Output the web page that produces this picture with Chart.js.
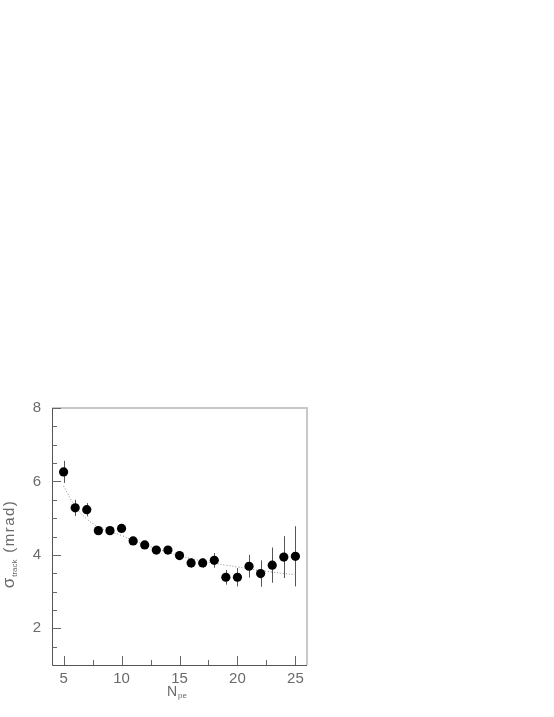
<!DOCTYPE html>
<html>
<head>
<meta charset="utf-8">
<script src="https://cdn.jsdelivr.net/npm/chart.js@4/dist/chart.umd.min.js"></script>
<style>
html,body{margin:0;padding:0;background:#fff;}
#wrap{position:relative;width:554px;height:717px;}
</style>
</head>
<body>
<div id="wrap"><canvas id="c" width="554" height="717"></canvas></div>
<script>
// Data
const nPe = [5,6,7,8,9,10,11,12,13,14,15,16,17,18,19,20,21,22,23,24,25];
const sigmaTrack = [6.26,5.28,5.23,4.66,4.66,4.72,4.38,4.27,4.13,4.13,3.98,3.78,3.78,3.85,3.39,3.39,3.69,3.49,3.72,3.94,3.96];
const sigmaErr = [0.30,0.22,0.18,0.10,0.10,0.10,0.10,0.10,0.10,0.10,0.10,0.13,0.13,0.20,0.20,0.25,0.31,0.36,0.48,0.57,0.82];
const fitX = [5,6,7,8,9,10,11,12,13,14,15,16,17,18,19,20,21,22,23,24,25];
const fitY = [5.88,5.32,4.98,4.76,4.63,4.53,4.39,4.28,4.17,4.07,3.98,3.90,3.83,3.77,3.72,3.67,3.62,3.57,3.53,3.49,3.46];
const xTicks = [5,10,15,20,25];
const yTicks = [2,4,6,8];
const xMinorTicks = [7.5,12.5,17.5,22.5];
const yMinorTicks = [1.5,2.5,3,3.5,4.5,5,5.5,6.5,7,7.5];

const FONT = '"Liberation Sans", Arial, sans-serif';
const TXT = '#6a6a6a';

const framePlugin = {
  id: 'framePlugin',
  beforeDatasetsDraw(chart) {
    const {ctx, scales: {x, y}} = chart;
    ctx.save();
    ctx.strokeStyle = '#555';
    ctx.lineWidth = 1;
    nPe.forEach((n, i) => {
      const px = Math.round(x.getPixelForValue(n)) + 0.5;
      ctx.beginPath();
      ctx.moveTo(px, y.getPixelForValue(sigmaTrack[i] + sigmaErr[i]));
      ctx.lineTo(px, y.getPixelForValue(sigmaTrack[i] - sigmaErr[i]));
      ctx.stroke();
    });
    ctx.restore();
  },
  afterDraw(chart) {
    const {ctx, chartArea: a, scales: {x, y}} = chart;
    ctx.save();
    ctx.lineWidth = 2;
    ctx.strokeStyle = '#c8c8c8';
    ctx.beginPath();
    ctx.moveTo(a.left, a.top); ctx.lineTo(a.right, a.top); ctx.lineTo(a.right, a.bottom);
    ctx.stroke();
    ctx.lineWidth = 1;
    ctx.strokeStyle = '#555';
    ctx.beginPath();
    ctx.moveTo(a.left + 0.5, a.top); ctx.lineTo(a.left + 0.5, a.bottom + 0.5); ctx.lineTo(a.right, a.bottom + 0.5);
    ctx.stroke();
    ctx.strokeStyle = '#666';
    ctx.beginPath();
    xTicks.forEach(v => { const p = Math.round(x.getPixelForValue(v)) + 0.5; ctx.moveTo(p, a.bottom); ctx.lineTo(p, a.bottom - 9); });
    xMinorTicks.forEach(v => { const p = Math.round(x.getPixelForValue(v)) + 0.5; ctx.moveTo(p, a.bottom); ctx.lineTo(p, a.bottom - 5); });
    yTicks.forEach(v => { const p = Math.round(y.getPixelForValue(v)) + 0.5; ctx.moveTo(a.left, p); ctx.lineTo(a.left + 9, p); });
    yMinorTicks.forEach(v => { const p = Math.round(y.getPixelForValue(v)) + 0.5; ctx.moveTo(a.left, p); ctx.lineTo(a.left + 5, p); });
    ctx.stroke();
    ctx.fillStyle = TXT;
    ctx.textBaseline = 'alphabetic';
    ctx.textAlign = 'left';
    // x title N_pe
    const cx = (a.left + a.right) / 2;
    ctx.font = '14px ' + FONT;
    const wN = ctx.measureText('N').width;
    ctx.font = '8px ' + FONT;
    const wpe = ctx.measureText('pe').width;
    const startX = cx - (wN + wpe) / 2 - 3;
    ctx.font = '14px ' + FONT;
    ctx.fillText('N', startX, 696);
    ctx.font = '8px ' + FONT;
    ctx.fillText('pe', startX + wN + 1, 698);
    // y title sigma_track (mrad), rotated
    ctx.translate(14, 544);
    ctx.rotate(-Math.PI / 2);
    ctx.font = '17px ' + FONT;
    const wS = ctx.measureText('σ').width;
    ctx.font = '8px ' + FONT;
    const wT = ctx.measureText('track').width;
    ctx.font = '15px ' + FONT;
    if ('letterSpacing' in ctx) ctx.letterSpacing = '1.5px';
    const wM = ctx.measureText(' (mrad)').width;
    if ('letterSpacing' in ctx) ctx.letterSpacing = '0px';
    let sx = -(wS + wT + wM + 2) / 2;
    ctx.font = '17px ' + FONT;
    ctx.fillText('σ', sx, 0);
    sx += wS + 1;
    ctx.font = '8px ' + FONT;
    ctx.fillText('track', sx, 3);
    sx += wT + 1;
    ctx.font = '15px ' + FONT;
    if ('letterSpacing' in ctx) ctx.letterSpacing = '1.5px';
    ctx.fillText(' (mrad)', sx, 0);
    ctx.restore();
  }
};

new Chart(document.getElementById('c'), {
  type: 'scatter',
  data: {
    datasets: [
      {
        type: 'line',
        data: fitX.map((v, i) => ({x: v, y: fitY[i]})),
        borderColor: '#888',
        borderWidth: 1,
        borderDash: [1, 2],
        pointRadius: 0,
        tension: 0.4,
        fill: false,
        order: 2
      },
      {
        data: nPe.map((v, i) => ({x: v, y: sigmaTrack[i]})),
        backgroundColor: '#000',
        borderColor: '#000',
        pointRadius: 4.6,
        pointHoverRadius: 4.6,
        borderWidth: 0,
        order: 1
      }
    ]
  },
  options: {
    responsive: false,
    animation: false,
    events: [],
    layout: {padding: {left: 0, top: 408, right: 247, bottom: 0}},
    plugins: {legend: {display: false}, tooltip: {enabled: false}},
    scales: {
      x: {
        type: 'linear', min: 4, max: 26,
        afterBuildTicks: s => { s.ticks = xTicks.map(v => ({value: v})); },
        afterFit: s => { s.height = 52; },
        grid: {display: false, drawTicks: false},
        border: {display: false},
        ticks: {padding: 5, color: TXT, font: {family: FONT, size: 15}, maxRotation: 0}
      },
      y: {
        type: 'linear', min: 1, max: 8,
        afterBuildTicks: s => { s.ticks = yTicks.map(v => ({value: v})); },
        afterFit: s => { s.width = 52; },
        grid: {display: false, drawTicks: false},
        border: {display: false},
        ticks: {padding: 11, color: TXT, font: {family: FONT, size: 15}}
      }
    }
  },
  plugins: [framePlugin]
});
</script>
</body>
</html>
